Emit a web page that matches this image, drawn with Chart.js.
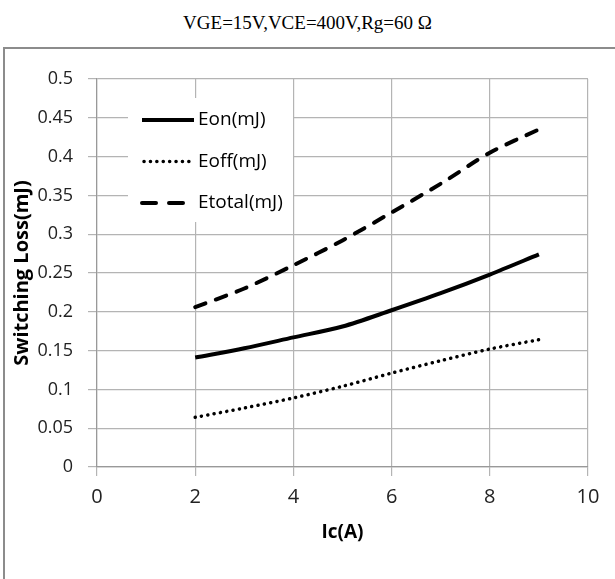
<!DOCTYPE html>
<html>
<head>
<meta charset="utf-8">
<script src="https://cdn.jsdelivr.net/npm/chart.js@4"></script>
<style>
  body { margin: 0; background: #fff; overflow: hidden; }
  #title { position: absolute; left: 0; top: 12px; width: 615px; text-align: center;
           font-family: "Liberation Serif", "Times New Roman", serif; font-size: 19px; color: #000; }
  #box { position: absolute; left: 3px; top: 47px; width: 640px; height: 560px;
         border: 2px solid #8c8c8c; }
  #wrap { position: absolute; left: 0; top: 0; width: 610px; height: 495px; }
</style>
</head>
<body>
<div id="title">VGE=15V,VCE=400V,Rg=60 Ω</div>
<div id="box"><div id="wrap"><canvas id="ch"></canvas></div></div>
<script>
// switching loss vs collector current
var ic = [2, 3, 4, 5, 6, 7, 8, 9];
var eon = [0.141, 0.153, 0.167, 0.181, 0.202, 0.224, 0.248, 0.274];
var eoff = [0.064, 0.076, 0.089, 0.104, 0.121, 0.137, 0.152, 0.164];
var etotal = [0.206, 0.230, 0.260, 0.292, 0.328, 0.365, 0.405, 0.435];
var xTicks = [0, 2, 4, 6, 8, 10];
var yTicks = [0, 0.05, 0.1, 0.15, 0.2, 0.25, 0.3, 0.35, 0.4, 0.45, 0.5];

var fam = '"Open Sans", sans-serif';
var tickFont = { family: fam, size: 18 };

function pts(ys) {
  return ic.map(function (x, i) { return { x: x, y: ys[i] }; });
}

// legend drawn inside the plot, with a white box behind it
var innerLegend = {
  id: 'innerLegend',
  afterDraw: function (chart) {
    var ctx = chart.ctx;
    var x0 = chart.chartArea.left + 45;
    var y0 = chart.chartArea.top + 41;
    ctx.save();
    ctx.fillStyle = '#fff';
    ctx.fillRect(x0 - 14, y0 - 22, 165, 124);
    chart.data.datasets.forEach(function (ds, i) {
      var y = y0 + i * 41.5;
      ctx.beginPath();
      ctx.strokeStyle = '#000';
      ctx.lineWidth = ds.borderWidth;
      ctx.setLineDash(i == 2 ? [14, 13] : (ds.borderDash || []));
      ctx.lineCap = ds.borderCapStyle || 'butt';
      ctx.moveTo(x0 + (i == 1 ? 2 : 0), y);
      ctx.lineTo(x0 + (i == 1 ? 48 : 52), y);
      ctx.stroke();
      ctx.setLineDash([]);
      ctx.fillStyle = '#000';
      ctx.font = '19px ' + fam;
      ctx.textBaseline = 'middle';
      ctx.fillText(ds.label, x0 + 56, y);
    });
    ctx.restore();
  }
};

var c = document.getElementById('ch').getContext('2d');
var myChart = new Chart(c, {
  type: 'scatter',
  data: {
    datasets: [{
      label: 'Eon(mJ)',
      data: pts(eon),
      showLine: true,
      borderColor: '#000',
      borderWidth: 4,
      pointRadius: 0,
      tension: 0.3
    }, {
      label: 'Eoff(mJ)',
      data: pts(eoff),
      showLine: true,
      borderColor: '#000',
      borderWidth: 3.5,
      borderDash: [0.1, 6.3],
      borderCapStyle: 'round',
      pointRadius: 0,
      tension: 0.3
    }, {
      label: 'Etotal(mJ)',
      data: pts(etotal),
      showLine: true,
      borderColor: '#000',
      borderWidth: 4,
      borderDash: [11, 11],
      borderCapStyle: 'round',
      pointRadius: 0,
      tension: 0.3
    }]
  },
  options: {
    responsive: true,
    maintainAspectRatio: false,
    animation: false,
    layout: { padding: { top: 30, right: 27, left: 0, bottom: 0 } },
    plugins: { legend: { display: false }, tooltip: { enabled: false } },
    scales: {
      x: {
        type: 'linear', min: 0, max: 10,
        afterBuildTicks: function (s) { s.ticks = xTicks.map(function (v) { return { value: v }; }); },
        afterFit: function (s) { s.height = 77; },
        grid: { color: '#b4b4b4', lineWidth: 1.2, tickLength: 9, drawTicks: true },
        border: { color: '#999', width: 1.2 },
        ticks: { font: { family: fam, size: 20 }, color: '#222', padding: 9, maxRotation: 0 },
        title: { display: true, text: 'Ic(A)', color: '#000', font: { family: fam, size: 19, weight: 'bold' }, padding: { top: 4, bottom: 0 } }
      },
      y: {
        type: 'linear', min: 0, max: 0.5,
        afterBuildTicks: function (s) { s.ticks = yTicks.map(function (v) { return { value: v }; }); },
        afterFit: function (s) { s.width = 92; },
        grid: { color: '#b4b4b4', lineWidth: 1.2, tickLength: 9 },
        border: { color: '#999', width: 1.2 },
        ticks: { font: tickFont, color: '#222', padding: 15, callback: function (v) { return String(v); } },
        title: { display: true, text: 'Switching Loss(mJ)', color: '#000', font: { family: fam, size: 20, weight: 'bold' }, padding: { top: 5, bottom: 4 } }
      }
    }
  },
  plugins: [innerLegend]
});
</script>
</body>
</html>
